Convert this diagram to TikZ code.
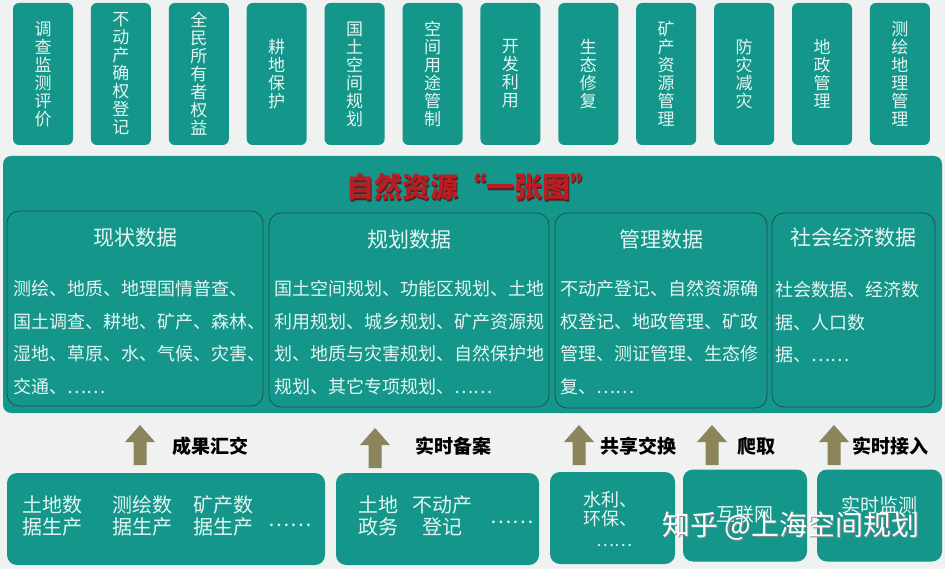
\documentclass[tikz,border=0pt]{standalone}
\usepackage{fontspec}
\setmainfont{Noto Sans CJK SC}
\definecolor{boxteal}{RGB}{20,150,138}
\definecolor{boxline}{RGB}{28,82,76}
\definecolor{boxtext}{RGB}{228,246,243}
\definecolor{arrowcol}{RGB}{140,132,90}
\definecolor{titlered}{RGB}{188,28,34}
\definecolor{titleshade}{RGB}{80,36,36}
\definecolor{bgcol}{RGB}{240,242,242}
\tikzset{
  topbox/.style={fill=boxteal, rounded corners=6, minimum width=60, minimum height=142,
    inner sep=0, align=center, text=boxtext, font=\fontsize{17}{18}\selectfont},
  panelbox/.style={fill=boxteal, rounded corners=8, minimum width=939, minimum height=257},
  databox/.style={fill=boxteal, draw=boxline, line width=0.8, rounded corners=12},
  datahead/.style={text=boxtext, inner sep=0, font=\fontsize{21}{23}\selectfont},
  databody/.style={anchor=north west, inner sep=0, align=left, text=boxtext,
    font=\fontsize{18}{32.7}\selectfont},
  srcbox/.style={fill=boxteal, rounded corners=10, minimum height=92},
  srctext/.style={align=center, inner sep=0, text=boxtext, font=\fontsize{20}{22}\selectfont},
  flowlabel/.style={anchor=west, inner sep=0, font=\fontsize{19}{21}\selectfont\bfseries},
  uparrow/.pic={\fill[arrowcol] (-6.5,20) -- (-6.5,-3) -- (-15,-3) -- (0,-20)
    -- (15,-3) -- (6.5,-3) -- (6.5,20) -- cycle;}
}
\begin{document}
\begin{tikzpicture}[x=1pt, y=-1pt]
  \fill[bgcol] (0,0) rectangle (945,569);
  \useasboundingbox (0,0) rectangle (945,569);
  % top row
  \node[topbox] (dc) at (43,74) {调\\查\\监\\测\\评\\价};
  \node[topbox] (bdc) at (120.9,74) {不\\动\\产\\确\\权\\登\\记};
  \node[topbox] (qm) at (198.8,74) {全\\民\\所\\有\\者\\权\\益};
  \node[topbox] (gd) at (276.7,74) {耕\\地\\保\\护};
  \node[topbox] (gt) at (354.6,74) {国\\土\\空\\间\\规\\划};
  \node[topbox] (kj) at (432.5,74) {空\\间\\用\\途\\管\\制};
  \node[topbox] (kf) at (510.4,74) {开\\发\\利\\用};
  \node[topbox] (st) at (588.3,74) {生\\态\\修\\复};
  \node[topbox] (kc) at (666.2,74) {矿\\产\\资\\源\\管\\理};
  \node[topbox] (fz) at (744.1,74) {防\\灾\\减\\灾};
  \node[topbox] (dz) at (822,74) {地\\政\\管\\理};
  \node[topbox] (ch) at (899.9,74) {测\\绘\\地\\理\\管\\理};
  % one map
  \node[panelbox] (panel) at (472.5,284.5) {};
  \node[text=titleshade, font=\fontsize{28}{30}\selectfont\bfseries] (titles) at (473.5,188.5) {自然资源“一张图”};
  \node[text=titlered, font=\fontsize{28}{30}\selectfont\bfseries] (title) at (472,187) {自然资源“一张图”};
  \node[databox, minimum width=256, minimum height=195] (xz) at (135,308.5) {};
  \node[databox, minimum width=280, minimum height=194] (gh) at (409,310) {};
  \node[databox, minimum width=212, minimum height=195] (gl) at (661,310.5) {};
  \node[databox, minimum width=163, minimum height=194] (sh) at (853.5,310) {};
  \node[datahead] (xzh) at (135,238) {现状数据};
  \node[datahead] (ghh) at (409,240) {规划数据};
  \node[datahead] (glh) at (661,240) {管理数据};
  \node[datahead] (shh) at (853.5,238) {社会经济数据};
  \node[databody] (xzb) at (13,280) {测绘、地质、地理国情普查、\\国土调查、耕地、矿产、森林、\\湿地、草原、水、气候、灾害、\\交通、……};
  \node[databody] (ghb) at (274,280) {国土空间规划、功能区规划、土地\\利用规划、城乡规划、矿产资源规\\划、地质与灾害规划、自然保护地\\规划、其它专项规划、……};
  \node[databody] (glb) at (560,280) {不动产登记、自然资源确\\权登记、地政管理、矿政\\管理、测证管理、生态修\\复、……};
  \node[databody] (shb) at (775,281) {社会数据、经济数\\据、人口数\\据、……};
  % flows
  \pic (up1) at (140,445) {uparrow};
  \pic (up2) at (375,448) {uparrow};
  \pic (up3) at (579,445) {uparrow};
  \pic (up4) at (712,445) {uparrow};
  \pic (up5) at (834,445) {uparrow};
  \node[flowlabel] (cg) at (172,446) {成果汇交};
  \node[flowlabel] (ss) at (415,446) {实时备案};
  \node[flowlabel] (gx) at (600,446) {共享交换};
  \node[flowlabel] (pq) at (737,446) {爬取};
  \node[flowlabel] (jr) at (852,446) {实时接入};
  % sources
  \node[srcbox, minimum width=318] (s1) at (166,519) {};
  \node[srcbox, minimum width=203] (s2) at (437.5,519) {};
  \node[srcbox, minimum width=125] (s3) at (612.5,518) {};
  \node[srcbox, minimum width=124] (s4) at (745,515.5) {};
  \node[srcbox, minimum width=125] (s5) at (879.5,515.5) {};
  \node[srctext] (td) at (53,516) {土地数\\据生产};
  \node[srctext] (chs) at (142,516) {测绘数\\据生产};
  \node[srctext] (kcs) at (223,516) {矿产数\\据生产};
  \node[srctext] (d1) at (290,525) {……};
  \node[srctext] (tdz) at (378,516) {土地\\政务};
  \node[srctext] (bdcd) at (442,516) {不动产\\登记};
  \node[srctext] (d2) at (512,522) {……};
  \node[srctext, anchor=west, align=left, font=\fontsize{18}{19}\selectfont] (slhb) at (583,509) {水利、\\环保、};
  \node[srctext, font=\fontsize{17}{18}\selectfont] (d3) at (614,546) {……};
  \node[srctext, font=\fontsize{19}{21}\selectfont] (hlw) at (745,515) {互联网};
  \node[srctext, font=\fontsize{19}{21}\selectfont] (ssjc) at (879,505) {实时监测};
  % mark
  \node[text=black!45, inner sep=0, font=\fontsize{28}{30}\selectfont] (marks) at (792,527) {知乎 @上海空间规划};
  \node[text=white, inner sep=0, font=\fontsize{28}{30}\selectfont] (mark) at (791,526) {知乎 @上海空间规划};
\end{tikzpicture}
\end{document}
